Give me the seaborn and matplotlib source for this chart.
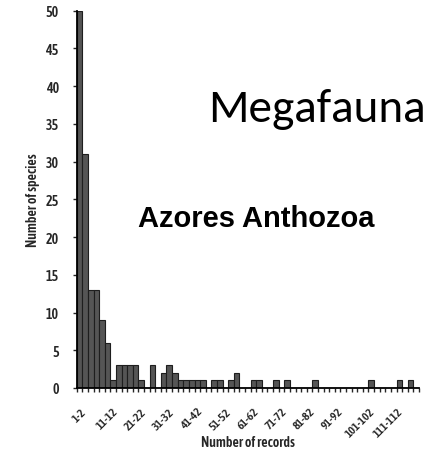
"""
Histogram of Azores Anthozoa species by number of records (megafauna).
"""

import matplotlib
matplotlib.use("Agg")
import matplotlib.pyplot as plt
import matplotlib.ticker as mticker
import pandas as pd
import seaborn as sns

# ---------------------------------------------------------------------------
# Data
# ---------------------------------------------------------------------------
bin_labels = [f"{2 * i + 1}-{2 * i + 2}" for i in range(61)]
species_counts = [
    50, 31, 13, 13, 9, 6, 1, 3, 3, 3,
    3, 1, 0, 3, 0, 2, 3, 2, 1, 1,
    1, 1, 1, 0, 1, 1, 0, 1, 2, 0,
    0, 1, 1, 0, 0, 1, 0, 1, 0, 0,
    0, 0, 1, 0, 0, 0, 0, 0, 0, 0,
    0, 0, 1, 0, 0, 0, 0, 1, 0, 1,
    0,
]
shown_labels = bin_labels[0:56:5]   # 1-2, 11-12, ..., 111-112

df = pd.DataFrame({"records": bin_labels, "species": species_counts})

# ---------------------------------------------------------------------------
# Style
# ---------------------------------------------------------------------------
sns.set_style("white")
NARROW = ["Asap Condensed", "Liberation Sans Narrow", "DejaVu Sans"]
plt.rcParams["font.family"] = NARROW

BAR = "#555555"
EDGE = "#1e1e1e"

W, H, DPI = 430, 452, 100
fig = plt.figure(figsize=(W / DPI, H / DPI), dpi=DPI)
ax = fig.add_axes([76.7 / W, 1 - 389 / H, (419 - 76.7) / W, (389 - 11.7) / H])

sns.barplot(data=df, x="records", y="species", order=bin_labels,
            color=BAR, width=1.0, edgecolor=EDGE, linewidth=0.8,
            saturation=1, ax=ax)

ax.set_xlim(-0.5, len(bin_labels) - 0.5)
ax.set_ylim(0, 50)

# y axis
ax.yaxis.set_major_locator(mticker.MultipleLocator(5))
ax.tick_params(axis="y", direction="out", length=3, width=1, pad=10,
               labelsize=10, left=True)
for t in ax.get_yticklabels():
    t.set_fontweight(600)

# x axis: labels every 5th bin, small ticks at each bin edge
ax.set_xticks([bin_labels.index(s) for s in shown_labels])
ax.set_xticklabels(shown_labels, rotation=45, ha="center", va="top",
                   fontsize=8.5, fontweight=600)
ax.tick_params(axis="x", which="major", length=0, pad=12.5)
ax.xaxis.set_minor_locator(mticker.FixedLocator(
    [i - 0.5 for i in range(len(bin_labels) + 1)]))
ax.tick_params(axis="x", which="minor", direction="out", length=3,
               width=1, bottom=True)

for side in ["top", "right"]:
    ax.spines[side].set_visible(False)
for side in ["left", "bottom"]:
    ax.spines[side].set_color("black")
    ax.spines[side].set_linewidth(1.3)

ax.set_xlabel("Number of records", fontsize=10, fontweight=600)
ax.set_ylabel("Number of species", fontsize=10, fontweight=600)
ax.xaxis.set_label_coords(0.5, -(443 - 389) / (389 - 11.7))
ax.yaxis.set_label_coords((32.5 - 76.7) / (419 - 76.7), 0.5)
ax.xaxis.label.set_va("center")
ax.yaxis.label.set_va("center")

# annotations
fig.text(208 / W, 1 - 122 / H, "Megafauna", family=["Carlito", "Open Sans"],
         fontsize=34, ha="left", va="baseline", color="black")
fig.text(138 / W, 1 - 226.7 / H, "Azores Anthozoa", family="Liberation Sans",
         fontsize=21, fontweight="bold", ha="left", va="baseline", color="black")

fig.savefig("out.png", dpi=DPI, facecolor="white")
